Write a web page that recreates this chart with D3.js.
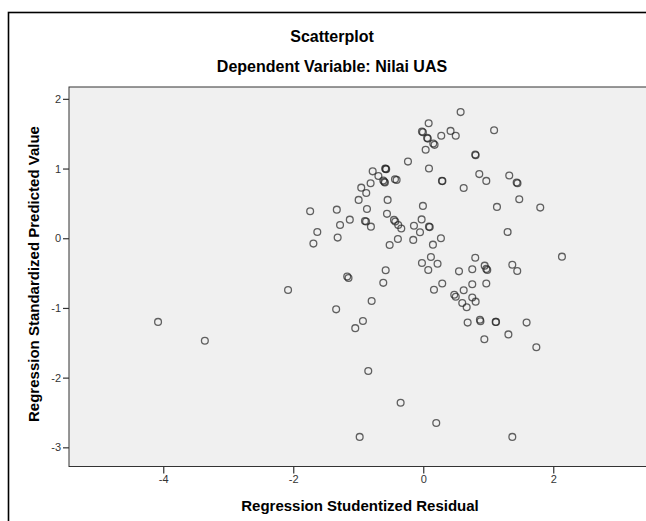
<!DOCTYPE html>
<html>
<head>
<meta charset="utf-8">
<script src="https://cdn.jsdelivr.net/npm/d3@7"></script>
<style>
  html, body { margin: 0; padding: 0; background: #fff; }
  svg { display: block; }
  text { font-family: "Liberation Sans", Arial, sans-serif; }
</style>
</head>
<body>
<svg id="chart" width="646" height="521"></svg>
<script>
// Regression Studentized Residual (x) and Regression Standardized Predicted Value (y)
const residual = [
  0.575, 0.083, -0.02, -0.005, 0.06, 0.07, 0.154, 0.174, 0.277, 0.42,
  0.50, 1.09, 0.037, 0.806, 0.80, -0.235, 0.088, -0.578, -0.57, -0.585,
  -0.778, -0.69, -0.615, -0.60, -0.59, -0.435, -0.41, -0.81, -0.954, -0.877,
  -0.994, -0.548, 0.288, 0.295, 0.622, 0.862, 0.97, 1.323, 1.437, 1.45,
  1.477, 1.134, -0.005, -0.866, -1.33, -1.74, -0.558, -0.897, -0.88, -1.13,
  -1.28, -0.805, -0.45, -0.43, -0.385, -0.338, -1.63, -1.69, -1.317, -0.025,
  -0.143, 0.088, 0.10, -0.05, -0.154, 0.272, 0.149, -0.517, -0.39, 1.298,
  1.80, 0.118, -0.02, 0.22, 0.80, 0.945, 1.37, -0.578, 0.55, 0.754,
  0.985, 0.97, 1.446, 0.077, -2.08, -1.34, -1.17, -1.15, -0.794, -0.615,
  -0.928, -1.046, -0.846, -0.348, -0.978, 0.20, 1.37, 0.292, 0.165, 0.622,
  0.754, 0.97, 0.477, 0.50, 0.60, 0.668, 0.754, 0.806, 0.683, 0.872,
  0.88, 1.114, 1.12, 1.59, 0.94, 1.31, 1.74, 2.134, -4.08, -3.36
];
const predicted = [
  1.81, 1.65, 1.53, 1.52, 1.44, 1.43, 1.36, 1.34, 1.47, 1.54,
  1.47, 1.55, 1.27, 1.19, 1.20, 1.10, 1.00, 0.995, 0.99, 1.00,
  0.96, 0.894, 0.827, 0.81, 0.80, 0.847, 0.837, 0.79, 0.726, 0.65,
  0.55, 0.55, 0.823, 0.82, 0.72, 0.92, 0.823, 0.90, 0.80, 0.79,
  0.56, 0.45, 0.464, 0.42, 0.41, 0.387, 0.35, 0.248, 0.24, 0.267,
  0.19, 0.166, 0.263, 0.24, 0.19, 0.14, 0.09, -0.077, 0.009, 0.27,
  0.18, 0.166, 0.16, 0.086, -0.024, 0.0, -0.092, -0.096, -0.01, 0.09,
  0.44, -0.27, -0.355, -0.365, -0.28, -0.393, -0.38, -0.46, -0.475, -0.445,
  -0.455, -0.44, -0.47, -0.455, -0.742, -1.02, -0.55, -0.57, -0.90, -0.64,
  -1.187, -1.29, -1.905, -2.36, -2.85, -2.65, -2.85, -0.65, -0.74, -0.747,
  -0.66, -0.65, -0.81, -0.84, -0.93, -0.99, -0.85, -0.91, -1.21, -1.17,
  -1.19, -1.20, -1.20, -1.21, -1.45, -1.38, -1.565, -0.264, -1.20, -1.47
];
const xTicks = [-4, -2, 0, 2];
const yTicks = [-3, -2, -1, 0, 1, 2];
const titleText = "Scatterplot";
const subtitleText = "Dependent Variable: Nilai UAS";
const xLabel = "Regression Studentized Residual";
const yLabel = "Regression Standardized Predicted Value";

const points = residual.map((r, i) => ({ x: r, y: predicted[i] }));

const svg = d3.select("#chart");
const plot = { left: 69, top: 87, right: 660.5, bottom: 466.5 };

// outer frame
svg.append("rect")
  .attr("x", 8.5).attr("y", 12.5)
  .attr("width", 720).attr("height", 600)
  .attr("fill", "none").attr("stroke", "#000").attr("stroke-width", 1.6);

const x = d3.scaleLinear().domain([-5.45, 3.65]).range([plot.left, plot.right]);
const y = d3.scaleLinear().domain([-3.275, 2.17]).range([plot.bottom, plot.top]);

// plot background
svg.append("rect")
  .attr("x", plot.left).attr("y", plot.top)
  .attr("width", plot.right - plot.left).attr("height", plot.bottom - plot.top)
  .attr("fill", "#f0f0f0").attr("stroke", "#333").attr("stroke-width", 1);

// axes
const fmt = d => String(d);
const xAxis = svg.append("g")
  .attr("transform", `translate(0,${plot.bottom})`)
  .call(d3.axisBottom(x).tickValues(xTicks).tickFormat(fmt).tickSize(7).tickPadding(2));
const yAxis = svg.append("g")
  .attr("transform", `translate(${plot.left},0)`)
  .call(d3.axisLeft(y).tickValues(yTicks).tickFormat(fmt).tickSize(6).tickPadding(2));
[xAxis, yAxis].forEach(g => {
  g.select(".domain").remove();
  g.selectAll(".tick line").attr("stroke", "#333").attr("stroke-width", 1.2);
  g.selectAll(".tick text").attr("fill", "#333")
    .style("font-family", "'Liberation Sans', Arial, sans-serif")
    .style("font-size", "11px");
});

// points
svg.append("g")
  .selectAll("circle")
  .data(points)
  .join("circle")
  .attr("cx", d => x(d.x))
  .attr("cy", d => y(d.y))
  .attr("r", 3.4)
  .attr("fill", "none")
  .attr("stroke", "#222")
  .attr("stroke-opacity", 0.7)
  .attr("stroke-width", 1.3);

// titles
svg.append("text")
  .attr("x", 332).attr("y", 41.5)
  .attr("text-anchor", "middle")
  .style("font-size", "16px").style("font-weight", "bold")
  .text(titleText);
svg.append("text")
  .attr("x", 332).attr("y", 71.5)
  .attr("text-anchor", "middle")
  .style("font-size", "16px").style("font-weight", "bold")
  .text(subtitleText);

// axis labels
svg.append("text")
  .attr("x", 360).attr("y", 510.5)
  .attr("text-anchor", "middle")
  .style("font-size", "15px").style("font-weight", "bold")
  .text(xLabel);
svg.append("text")
  .attr("transform", `translate(39,274) rotate(-90)`)
  .attr("text-anchor", "middle")
  .style("font-size", "15px").style("font-weight", "bold")
  .text(yLabel);
</script>
</body>
</html>
